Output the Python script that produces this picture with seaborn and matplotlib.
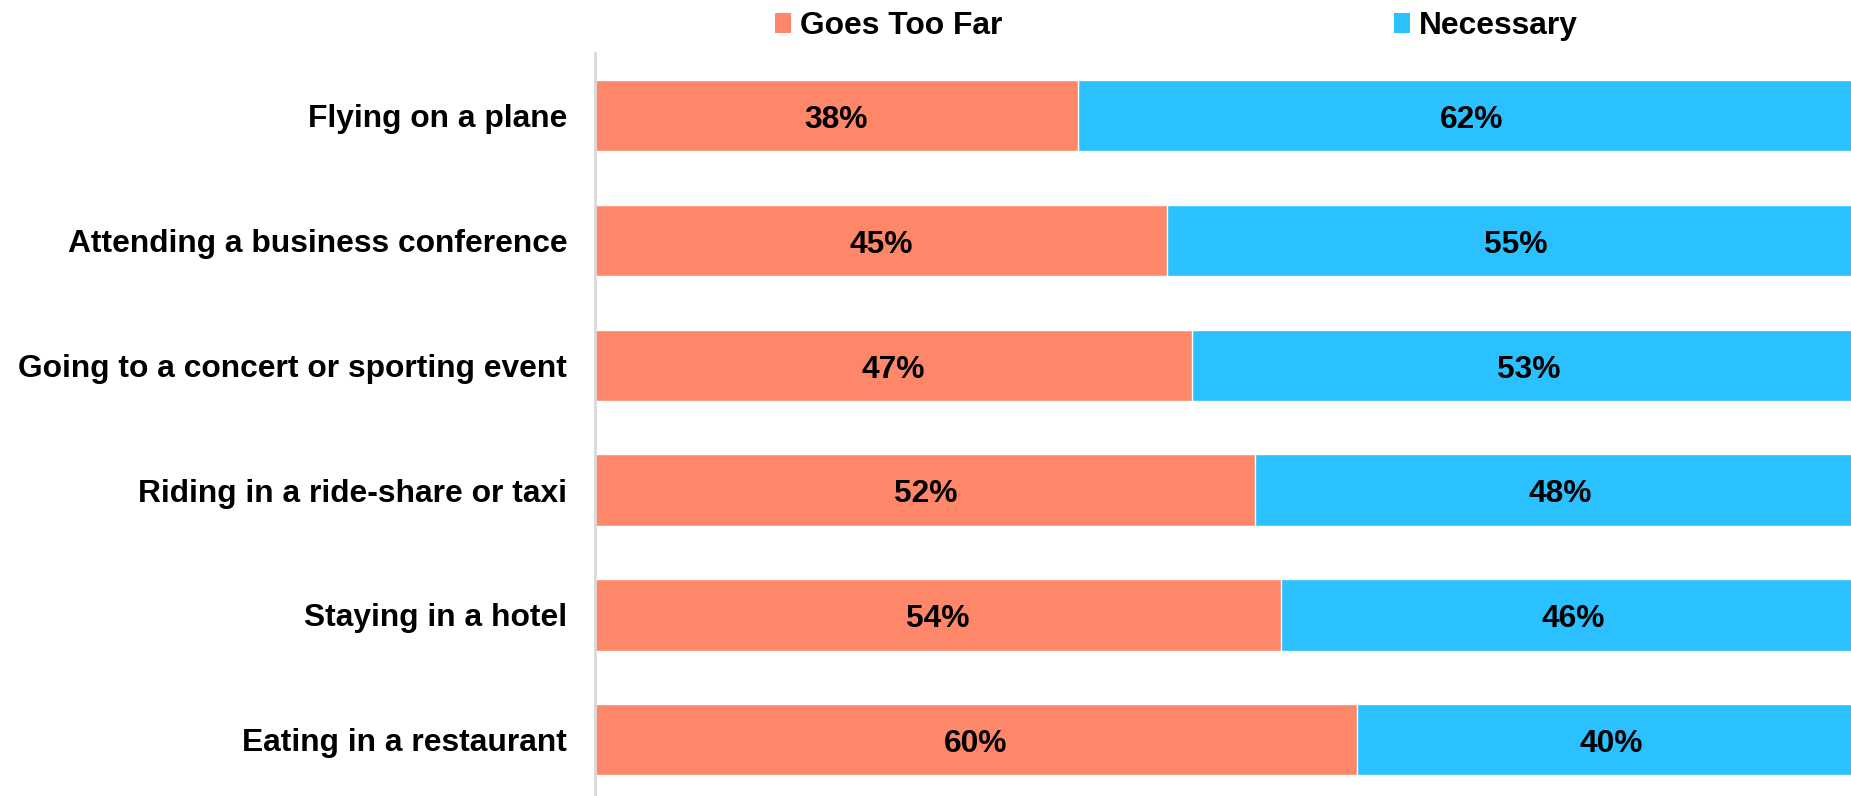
import matplotlib
matplotlib.use("Agg")
import matplotlib.pyplot as plt
import seaborn as sns
import pandas as pd
from matplotlib.patches import Patch

categories = [
    "Flying on a plane",
    "Attending a business conference",
    "Going to a concert or sporting event",
    "Riding in a ride-share or taxi",
    "Staying in a hotel",
    "Eating in a restaurant",
]
goes_too_far = [38, 45, 47, 52, 54, 60]
necessary = [62, 55, 53, 48, 46, 40]
series_names = ["Goes Too Far", "Necessary"]

ORANGE = "#FF8769"
BLUE = "#2BC0FF"
FS = 22.9

sns.set_theme(style="white")
plt.rcParams["font.family"] = ["Liberation Sans", "DejaVu Sans"]
plt.rcParams["font.weight"] = "bold"
plt.rcParams["text.color"] = "black"
plt.rcParams["ytick.color"] = "black"
plt.rcParams["ytick.labelcolor"] = "black"

df = pd.DataFrame({
    "cat": categories,
    "goes": goes_too_far,
    "nec": necessary,
})
df["total"] = df["goes"] + df["nec"]

fig = plt.figure(figsize=(18.51, 7.96), dpi=100)
ax = fig.add_axes([0.3215, 0.0, 0.6785, 0.9334])

sns.barplot(data=df, y="cat", x="total", color=BLUE, orient="h", width=0.57,
            ax=ax, saturation=1, order=categories)
sns.barplot(data=df, y="cat", x="goes", color=ORANGE, orient="h", width=0.57,
            ax=ax, saturation=1, order=categories)

for i, (g, n) in enumerate(zip(goes_too_far, necessary)):
    ax.text(g / 2, i + 0.035, f"{g}%", ha="center", va="center", fontsize=FS, fontweight="bold", color="black")
    ax.text(g + n / 2, i + 0.035, f"{n}%", ha="center", va="center", fontsize=FS, fontweight="bold", color="black")

ax.set_xlim(0, 98.9)
ax.set_ylim(5.45, -0.5)
ax.set_xlabel("")
ax.set_ylabel("")
ax.set_xticks([])
ax.tick_params(axis="y", length=0, pad=20, labelsize=FS, labelcolor="black")
for lab in ax.get_yticklabels():
    lab.set_fontweight("bold")
for s in ["top", "right", "bottom"]:
    ax.spines[s].set_visible(False)
ax.spines["left"].set_color("#D9D9D9")
ax.spines["left"].set_linewidth(2)

handles = [Patch(facecolor=ORANGE, edgecolor="none"), Patch(facecolor=BLUE, edgecolor="none")]
fig.legend(handles, series_names, loc="center", bbox_to_anchor=(0.6355, 0.967), ncol=2,
           frameon=False, handlelength=0.5, handleheight=0.57,
           handletextpad=0.29, columnspacing=12.3, borderpad=0.2,
           prop={"weight": "bold", "size": FS})

fig.savefig("out.png", dpi=100)
